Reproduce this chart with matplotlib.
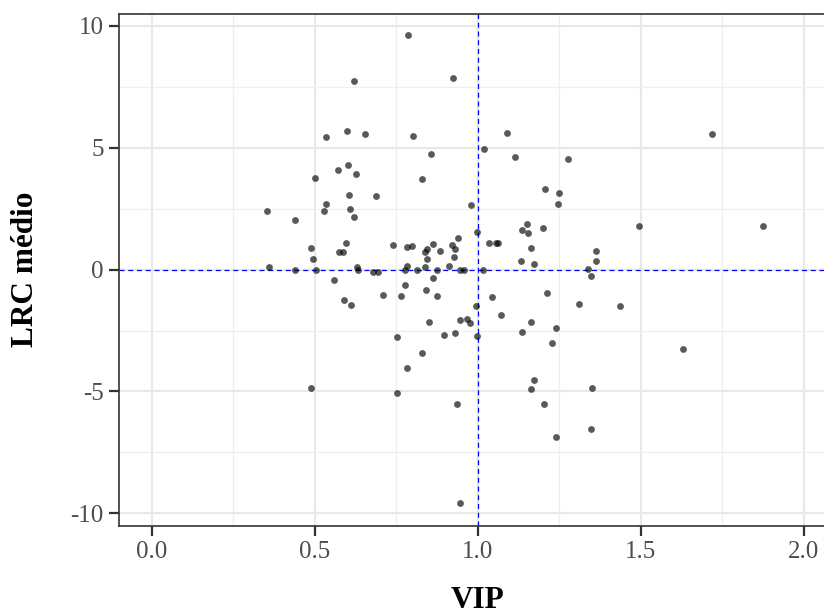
import numpy as np
import matplotlib
matplotlib.use('Agg')
import matplotlib.pyplot as plt
from matplotlib.ticker import MultipleLocator

plt.rcParams['font.family'] = ['Liberation Serif', 'DejaVu Serif']

# VIP score and mean log ratio for each variable
vip = [0.787, 0.621, 0.923, 0.536, 0.599, 0.654, 0.803, 1.019, 0.858, 0.603,
       0.571, 0.626, 0.501, 0.828, 0.606, 0.688, 0.535, 0.353, 0.528, 0.608,
       0.978, 0.441, 0.620, 0.997, 0.595, 0.739, 0.783, 0.798, 0.864, 0.922,
       0.941, 1.035, 1.055, 1.063, 0.488, 0.575, 0.586, 0.846, 0.837, 0.883,
       0.930, 0.495, 0.843, 0.927, 0.359, 0.630, 0.783, 0.837, 0.913, 0.441,
       0.505, 0.633, 0.679, 0.693, 0.778, 0.814, 0.874, 0.946, 0.958, 1.016,
       0.560, 0.778, 0.862, 0.841, 0.708, 0.764, 0.876, 1.044, 0.590, 0.610,
       1.089, 1.113, 1.278, 1.205, 1.248, 1.246, 1.718, 1.496, 1.875, 1.151,
       1.137, 1.153, 1.200, 1.163, 1.362, 1.133, 1.363, 1.172, 1.337, 1.347,
       1.212, 0.994, 0.945, 0.967, 0.977, 0.852, 0.898, 0.929, 0.998, 0.752,
       0.829, 0.782, 0.489, 0.752, 0.937, 0.945, 1.311, 1.435, 1.073, 1.163,
       1.137, 1.240, 1.227, 1.631, 1.172, 1.165, 1.350, 1.204, 1.348, 1.241]
lrc = [9.62, 7.76, 7.87, 5.46, 5.69, 5.58, 5.47, 4.97, 4.74, 4.28,
       4.08, 3.94, 3.75, 3.72, 3.08, 3.01, 2.68, 2.42, 2.40, 2.48,
       2.67, 2.04, 2.16, 1.53, 1.11, 1.00, 0.92, 0.99, 1.07, 1.01,
       1.30, 1.11, 1.10, 1.08, 0.88, 0.71, 0.71, 0.85, 0.73, 0.76,
       0.84, 0.44, 0.45, 0.52, 0.12, 0.12, 0.14, 0.12, 0.14, -0.02,
       0.00, 0.00, -0.09, -0.09, -0.01, 0.00, -0.01, -0.02, -0.01, -0.01,
       -0.42, -0.62, -0.33, -0.82, -1.03, -1.08, -1.09, -1.12, -1.26, -1.45,
       5.60, 4.64, 4.53, 3.30, 3.14, 2.70, 5.58, 1.81, 1.78, 1.89,
       1.63, 1.49, 1.71, 0.89, 0.78, 0.37, 0.36, 0.23, 0.04, -0.25,
       -0.97, -1.51, -2.06, -2.02, -2.18, -2.15, -2.68, -2.61, -2.73, -2.77,
       -3.43, -4.05, -4.84, -5.06, -5.52, -9.56, -1.42, -1.50, -1.87, -2.15,
       -2.57, -2.40, -3.02, -3.25, -4.54, -4.89, -4.86, -5.52, -6.55, -6.87]

x_ticks = [0.0, 0.5, 1.0, 1.5, 2.0]
y_ticks = [-10, -5, 0, 5, 10]

fig = plt.figure(figsize=(8.24, 6.16), dpi=100)
ax = fig.add_axes([119.1 / 824, 90.5 / 616, 717.2 / 824, 511.7 / 616])

ax.set_xlim(-0.1, 2.1)
ax.set_ylim(-10.5, 10.5)
ax.set_xticks(x_ticks)
ax.set_xticklabels(['%.1f' % t for t in x_ticks])
ax.set_yticks(y_ticks)
ax.set_yticklabels([str(t) for t in y_ticks])
ax.xaxis.set_minor_locator(MultipleLocator(0.25))
ax.yaxis.set_minor_locator(MultipleLocator(2.5))

ax.grid(which='major', color='#e8e8e8', linewidth=1.5, zorder=0)
ax.grid(which='minor', color='#efefef', linewidth=0.9, zorder=0)
ax.set_axisbelow(True)

ax.tick_params(which='major', length=7, width=1.6, color='#333333',
               labelsize=18, labelcolor='#4d4d4d', pad=4)
ax.tick_params(which='minor', length=0)
for s in ax.spines.values():
    s.set_color('#333333')
    s.set_linewidth(1.2)

ax.axhline(0, color='blue', linestyle=(0, (4, 3)), linewidth=0.9, zorder=2)
ax.axvline(1, color='blue', linestyle=(0, (4, 3)), linewidth=0.9, zorder=2)

ax.scatter(vip, lrc, s=24, color='black', alpha=0.65, linewidths=0, zorder=3)

ax.set_xlabel('VIP', fontsize=22.5, fontweight='bold', labelpad=17)
ax.set_ylabel('LRC médio', fontsize=22.5, fontweight='bold', labelpad=22)

fig.savefig('out.png', dpi=100)
